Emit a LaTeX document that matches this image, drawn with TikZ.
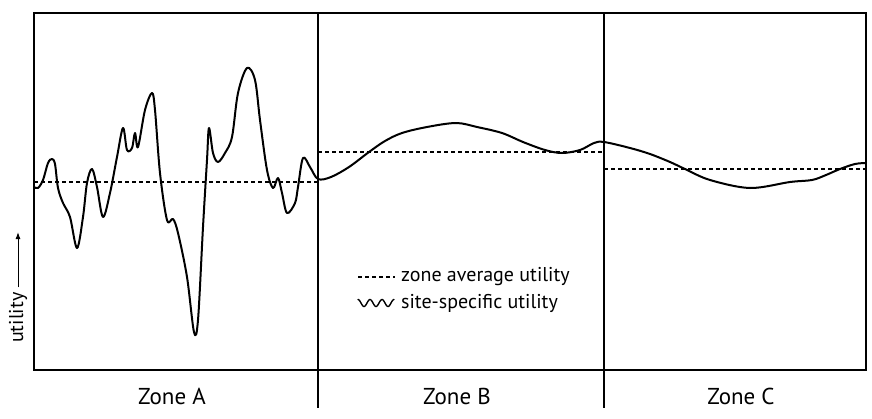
\documentclass[tikz,border=0pt]{standalone}
\usepackage{fontspec}
\setmainfont{PT Sans}
\usetikzlibrary{arrows.meta}
\tikzset{
  zonelbl/.style={font=\fontsize{23}{25}\selectfont, inner sep=0pt},
  legendlbl/.style={font=\fontsize{20}{22}\selectfont, inner sep=0pt, anchor=west},
  avgline/.style={line width=1.8pt, dash pattern=on 4pt off 3pt},
  siteline/.style={line width=2pt, line join=round, line cap=round}
}

\begin{document}
\begin{tikzpicture}[x=1pt, y=-1pt]
\useasboundingbox (0,0) rectangle (872,418);
\draw [line width=1.2pt] (34,13) rectangle (866,370);
\draw [line width=1.2pt] (318,13) -- (318,408);
\draw [line width=1.2pt] (604,13) -- (604,408);
\draw [avgline] (34,182) -- (318,182);
\draw [avgline] (318,152) -- (604,152);
\draw [avgline] (604,169) -- (866,169);
\draw [siteline] plot [smooth, tension=0.55] coordinates {
 (34,187) (38,188) (43,180) (48,163) (52,159) (55,164) (58,188) (63,203) (70,217)
 (77,248) (83,217) (87,183) (92,169) (97,187) (103,217) (110,193) (117,157)
 (123,128) (127,150) (132,148) (135,133) (138,147) (145,110) (152,93) (155,110)
 (160,173) (167,220) (173,219) (178,233) (187,277) (194,332) (198,320) (203,227)
 (207,160) (209,128) (213,153) (218,162) (225,153) (232,137) (238,93) (247,68)
 (255,80) (260,120) (267,170) (273,188) (278,178) (282,193) (287,213) (295,203)
 (298,187) (303,158) (310,167) (318,179)
 (331,177) (349,167) (369,152) (385,141) (402,133) (427,127) (456,123) (477,127)
 (502,133) (523,142) (545,150) (562,153) (580,150) (594,143) (604,142)
 (630,148) (650,154) (670,162) (685,169) (710,180) (750,188) (790,182) (812,180)
 (826,175) (840,169) (855,164) (866,163)};
\node [zonelbl] (za) at (172,396) {Zone A};
\node [zonelbl] (zb) at (457,396) {Zone B};
\node [zonelbl] (zc) at (741,396) {Zone C};
\node [legendlbl, rotate=90] (ylab) at (18,343) {utility};
\coordinate (ytip) at (18,232);
\draw [line width=1pt, -{Latex[length=7pt,width=5pt]}] ([yshift=5pt]ylab.east) -- (ytip);
\node [legendlbl] (lavg) at (401,277) {zone average utility};
\node [legendlbl] (lsite) at (401,303) {site-specific utility};
\draw [avgline, line width=1.4pt] ([xshift=-43pt]lavg.west) -- ([xshift=-6pt]lavg.west);
\draw [siteline, line width=1.4pt] plot [domain=0:36, samples=60] ({358+\x},{303-3.5*cos(\x*30)});
\end{tikzpicture}
\end{document}
